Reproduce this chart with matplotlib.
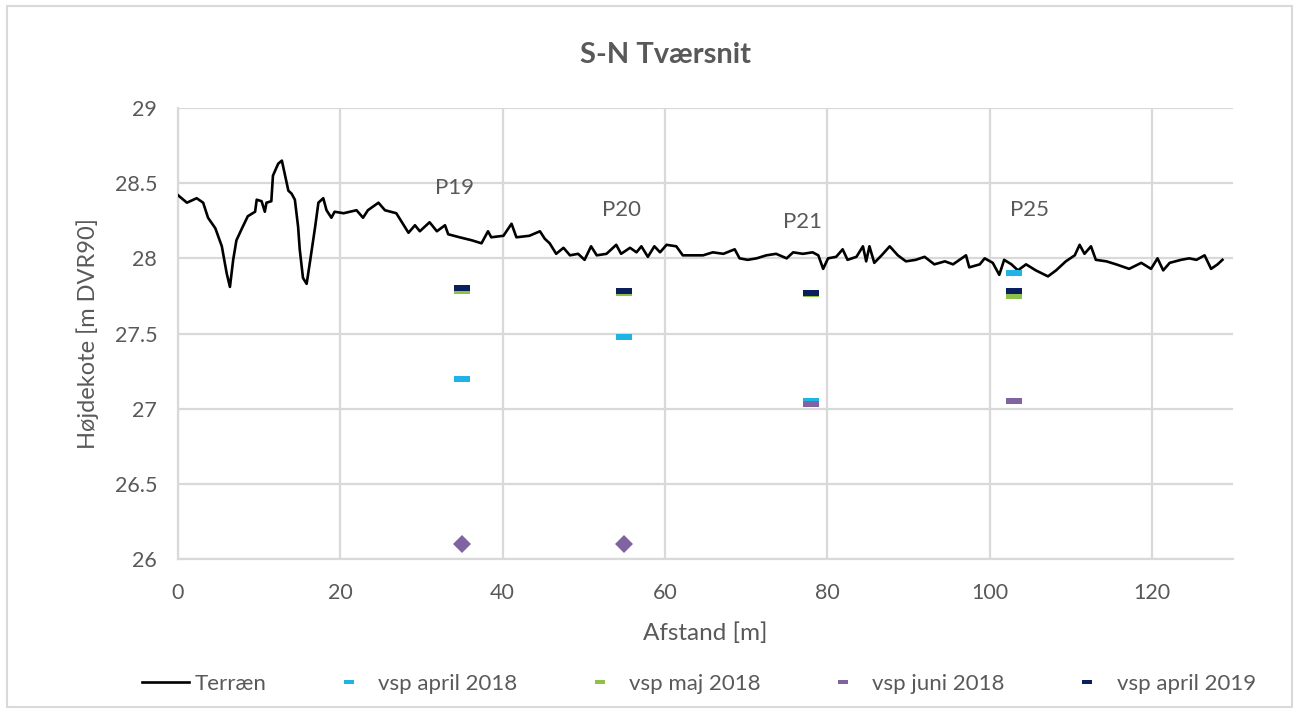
import matplotlib
matplotlib.use("Agg")
import matplotlib.pyplot as plt
from matplotlib.lines import Line2D
from matplotlib.patches import Rectangle

# ---------------- data ----------------
terrain_x = [0, 1.1, 2.3, 3.1, 3.7, 4.6, 5.4, 6.0, 6.4, 6.8,
             7.2, 7.8, 8.6, 9.5, 9.7, 10.3, 10.7, 10.9, 11.5, 11.7,
             12.35, 12.8, 13.2, 13.6, 14.0, 14.4, 14.8, 15.0, 15.4, 15.85,
             16.3, 16.9, 17.3, 17.9, 18.3, 18.9, 19.3, 20.4, 22.0, 22.8,
             23.4, 24.7, 25.5, 26.9, 28.4, 29.2, 29.8, 31.0, 31.9, 32.9,
             33.3, 34.7, 36.2, 37.4, 38.2, 38.6, 40.1, 41.1, 41.7, 43.3,
             44.6, 45.2, 45.8, 46.6, 47.5, 48.3, 49.3, 50.1, 50.9, 51.6,
             52.8, 54.0, 54.6, 55.7, 56.5, 57.1, 57.9, 58.7, 59.4, 60.2,
             61.4, 62.2, 63.5, 64.7, 65.9, 67.2, 68.6, 69.2, 70.2, 71.3,
             72.5, 73.7, 75.0, 75.8, 77.0, 78.2, 78.9, 79.5, 80.1, 81.1,
             81.9, 82.5, 83.6, 84.4, 84.8, 85.2, 85.8, 86.7, 87.7, 88.7,
             89.7, 90.9, 92.0, 93.2, 94.5, 95.5, 96.3, 97.1, 97.5, 98.8,
             99.4, 100.4, 101.2, 101.8, 102.7, 103.5, 104.5, 105.7, 107.2, 108.2,
             109.4, 110.5, 111.1, 111.7, 112.5, 113.1, 114.4, 115.6, 117.2, 118.7,
             119.9, 120.7, 121.4, 122.2, 123.6, 124.6, 125.5, 126.5, 127.3, 128.1,
             128.7]
terrain_y = [28.42, 28.37, 28.40, 28.37, 28.27, 28.20, 28.08, 27.90, 27.81, 27.99,
             28.12, 28.19, 28.28, 28.31, 28.39, 28.38, 28.31, 28.37, 28.38, 28.55,
             28.63, 28.65, 28.55, 28.45, 28.43, 28.39, 28.21, 28.06, 27.87, 27.83,
             27.99, 28.21, 28.37, 28.40, 28.32, 28.27, 28.31, 28.30, 28.32, 28.27,
             28.32, 28.37, 28.32, 28.30, 28.17, 28.22, 28.18, 28.24, 28.18, 28.22,
             28.16, 28.14, 28.12, 28.10, 28.18, 28.14, 28.15, 28.23, 28.14, 28.15,
             28.18, 28.13, 28.10, 28.03, 28.07, 28.02, 28.03, 27.99, 28.08, 28.02,
             28.03, 28.09, 28.03, 28.07, 28.04, 28.08, 28.01, 28.08, 28.04, 28.09,
             28.08, 28.02, 28.02, 28.02, 28.04, 28.03, 28.06, 28.00, 27.99, 28.00,
             28.02, 28.03, 28.00, 28.04, 28.03, 28.04, 28.02, 27.93, 28.00, 28.01,
             28.06, 27.99, 28.01, 28.08, 27.98, 28.08, 27.97, 28.02, 28.08, 28.02,
             27.98, 27.99, 28.01, 27.96, 27.98, 27.96, 27.99, 28.02, 27.94, 27.96,
             28.00, 27.97, 27.89, 27.99, 27.96, 27.92, 27.96, 27.92, 27.88, 27.92,
             27.98, 28.02, 28.09, 28.03, 28.08, 27.99, 27.98, 27.96, 27.93, 27.97,
             27.93, 28.00, 27.92, 27.97, 27.99, 28.00, 27.99, 28.02, 27.93, 27.96,
             27.99]

wells = ["P19", "P20", "P21", "P25"]
well_x = [35, 55, 78, 103]
vsp_april_2018 = [27.20, 27.48, 27.05, 27.90]
vsp_maj_2018 = [27.78, 27.77, 27.76, 27.75]
vsp_juni_2018 = [None, None, 27.03, 27.05]
vsp_juni_2018_dry = [26.10, 26.10, None, None]   # shown as diamonds
vsp_april_2019 = [27.80, 27.78, 27.77, 27.78]

series_labels = ["Terræn", "vsp april 2018", "vsp maj 2018", "vsp juni 2018", "vsp april 2019"]

# ---------------- styles ----------------
FONT = "Lato"
GREY = "#595959"
GRID = "#d9d9d9"
C_APR18 = "#1fb4e6"
C_MAJ18 = "#8fc04a"
C_JUN18 = "#8064a2"
C_APR19 = "#0b1f5c"

dash = [(-1, -0.38), (1, -0.38), (1, 0.38), (-1, 0.38), (-1, -0.38)]

plt.rcParams['font.family'] = [FONT, 'DejaVu Sans']

fig = plt.figure(figsize=(12.98, 7.11), dpi=100)
W, H = 1298, 711
ax = fig.add_axes([178 / W, 1 - 559 / H, (1233 - 178) / W, (559 - 108) / H])

# outer chart border
fig.patches.append(Rectangle((7 / W, 1 - 707 / H), (1292 - 7) / W, (707 - 6) / H,
                             transform=fig.transFigure, fill=False,
                             edgecolor="#d9d9d9", linewidth=1.5))

ax.plot(terrain_x, terrain_y, color="black", linewidth=1.9, zorder=3)

def pts(vals):
    xs = [x for x, v in zip(well_x, vals) if v is not None]
    ys = [v for v in vals if v is not None]
    return xs, ys

for vals, col in [(vsp_april_2018, C_APR18), (vsp_maj_2018, C_MAJ18),
                  (vsp_juni_2018, C_JUN18), (vsp_april_2019, C_APR19)]:
    xs, ys = pts(vals)
    ax.plot(xs, ys, linestyle="none", marker=dash, markersize=12,
            color=col, markeredgewidth=0, zorder=4)

xs, ys = pts(vsp_juni_2018_dry)
ax.plot(xs, ys, linestyle="none", marker="D", markersize=9.5,
        color=C_JUN18, markeredgewidth=0, zorder=4)

# well labels
label_pos = [(34.1, 28.47), (54.6, 28.32), (77.0, 28.24), (104.9, 28.32)]
for name, (lx, ly) in zip(wells, label_pos):
    ax.text(lx, ly, name, ha="center", va="center", fontsize=16, color=GREY)

ax.set_xlim(0, 130)
ax.set_ylim(26, 29)
ax.set_xticks(range(0, 121, 20))
ax.set_yticks([26, 26.5, 27, 27.5, 28, 28.5, 29])
ax.set_yticklabels(["26", "26.5", "27", "27.5", "28", "28.5", "29"])
ax.grid(True, color=GRID, linewidth=1.6, zorder=0)
ax.set_axisbelow(True)
for s in ["top", "right"]:
    ax.spines[s].set_visible(False)
for s in ["left", "bottom"]:
    ax.spines[s].set_color(GRID)
    ax.spines[s].set_linewidth(1.6)
ax.tick_params(length=0, labelsize=15.5, labelcolor=GREY)
ax.tick_params(axis="x", pad=17)
ax.tick_params(axis="y", pad=15)

ax.set_xlabel("Afstand [m]", fontsize=17.5, color=GREY, labelpad=14)
ax.set_ylabel("Højdekote [m DVR90]", fontsize=17, color=GREY, labelpad=11)
fig.text(665 / W, 1 - 55 / H, "S-N Tværsnit", ha="center", va="center",
         fontsize=21, fontweight="bold", color=GREY)

mk = dict(linestyle="none", marker=dash, markersize=7, markeredgewidth=0)
handles = [Line2D([], [], color="black", linewidth=1.9),
           Line2D([], [], color=C_APR18, **mk),
           Line2D([], [], color=C_MAJ18, **mk),
           Line2D([], [], color=C_JUN18, **mk),
           Line2D([], [], color=C_APR19, **mk)]
leg = fig.legend(handles, series_labels, loc="center",
                 bbox_to_anchor=(699 / W, 1 - 684 / H),
                 ncol=5, frameon=False, fontsize=16, handlelength=2.1,
                 columnspacing=2.65, handletextpad=0.27)
for t in leg.get_texts():
    t.set_color(GREY)

fig.savefig("out.png", dpi=100)
